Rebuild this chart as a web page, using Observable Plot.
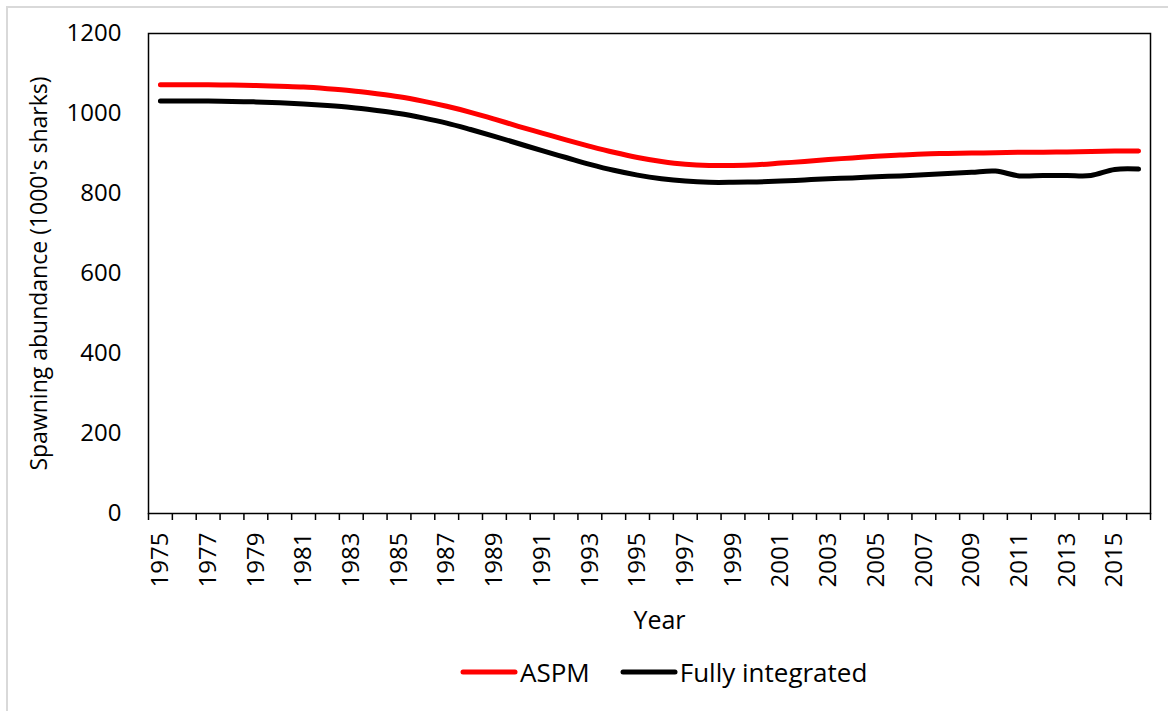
<!DOCTYPE html>
<html>
<head>
<meta charset="utf-8">
<script src="https://cdn.jsdelivr.net/npm/d3@7"></script>
<script src="https://cdn.jsdelivr.net/npm/@observablehq/plot@0.6"></script>
<style>
  html, body { margin: 0; padding: 0; background: #fff; }
  body { width: 1168px; height: 711px; overflow: hidden; position: relative; font-family: "Open Sans", sans-serif; }
  #border { position: absolute; left: 6px; top: 6px; width: 1200px; height: 800px; border: 2px solid #d9d9d9; box-sizing: border-box; pointer-events: none; }
  #chart { position: absolute; left: 0; top: 0; }
  #legend { position: absolute; left: 460px; top: 652px; height: 40px; display: flex; justify-content: flex-start; align-items: center; font-size: 26px; color: #000; white-space: nowrap; }
  .item { display: flex; align-items: center; margin-right: 30px; }
  .item svg { margin-right: 2px; }
</style>
</head>
<body>
<div id="border"></div>
<div id="chart"></div>
<div id="legend"></div>
<script>
const years = d3.range(1975, 2017);
const aspm = [1072,1072,1072,1071,1070,1068,1066,1062,1057,1050,1042,1031,1018,1003,986,968,951,934,918,903,890,880,873,870,870,872,876,880,885,889,893,896,899,900,901,902,903,903,904,905,906,906];
const fully = [1031,1031,1031,1030,1029,1027,1024,1020,1015,1008,1000,989,976,960,943,925,907,890,873,858,846,837,831,828,828,829,831,834,837,839,842,844,847,850,853,856,844,845,845,845,860,861];
const seriesNames = ["ASPM", "Fully integrated"];
const seriesColors = ["#ff0000", "#000000"];
const yTicks = [0, 200, 400, 600, 800, 1000, 1200];
const xLabelYears = d3.range(1975, 2016, 2);
const xTitle = "Year";
const yTitle = "Spawning abundance (1000's sharks)";

const data = [];
years.forEach((y, i) => {
  data.push({year: y, value: aspm[i], series: seriesNames[0]});
  data.push({year: y, value: fully[i], series: seriesNames[1]});
});
const boundaries = d3.range(years[0] - 0.5, years[years.length - 1] + 1, 1);

const chart = Plot.plot({
  width: 1168,
  height: 645,
  marginLeft: 148,
  marginTop: 33,
  marginRight: 18,
  marginBottom: 132,
  style: {fontFamily: "Open Sans", fontSize: "24px", color: "#000", background: "transparent"},
  x: {domain: [years[0] - 0.5, years[years.length - 1] + 0.5]},
  y: {domain: [0, 1200]},
  color: {domain: seriesNames, range: seriesColors},
  marks: [
    Plot.frame({stroke: "#000", strokeWidth: 1.5}),
    Plot.axisY({ticks: yTicks, tickSize: 0, tickPadding: 27, tickFormat: d => String(d), label: null}),
    Plot.axisY({ticks: [], label: yTitle, labelAnchor: "center", labelArrow: "none", labelOffset: 118, fontSize: 23}),
    Plot.axisX({ticks: boundaries, tickSize: 7, tickFormat: () => "", label: null, strokeWidth: 1.5}),
    Plot.axisX({ticks: xLabelYears, tickSize: 0, tickPadding: 19, tickRotate: -90, tickFormat: d => String(d), label: null}),
    Plot.text([xTitle], {frameAnchor: "bottom", text: d => d, dy: 115, dx: 10, fontSize: 25, fill: "#000"}),
    Plot.lineY(data, {x: "year", y: "value", stroke: "series", strokeWidth: 5, curve: "catmull-rom", strokeLinecap: "round", strokeLinejoin: "round"})
  ]
});
document.getElementById("chart").appendChild(chart);

const legend = document.getElementById("legend");
seriesNames.forEach((name, i) => {
  const item = document.createElement("div");
  item.className = "item";
  item.innerHTML = `<svg width="58" height="10"><line x1="3" y1="5" x2="55" y2="5" stroke="${seriesColors[i]}" stroke-width="5" stroke-linecap="round"/></svg><span>${name}</span>`;
  legend.appendChild(item);
});
</script>
</body>
</html>
